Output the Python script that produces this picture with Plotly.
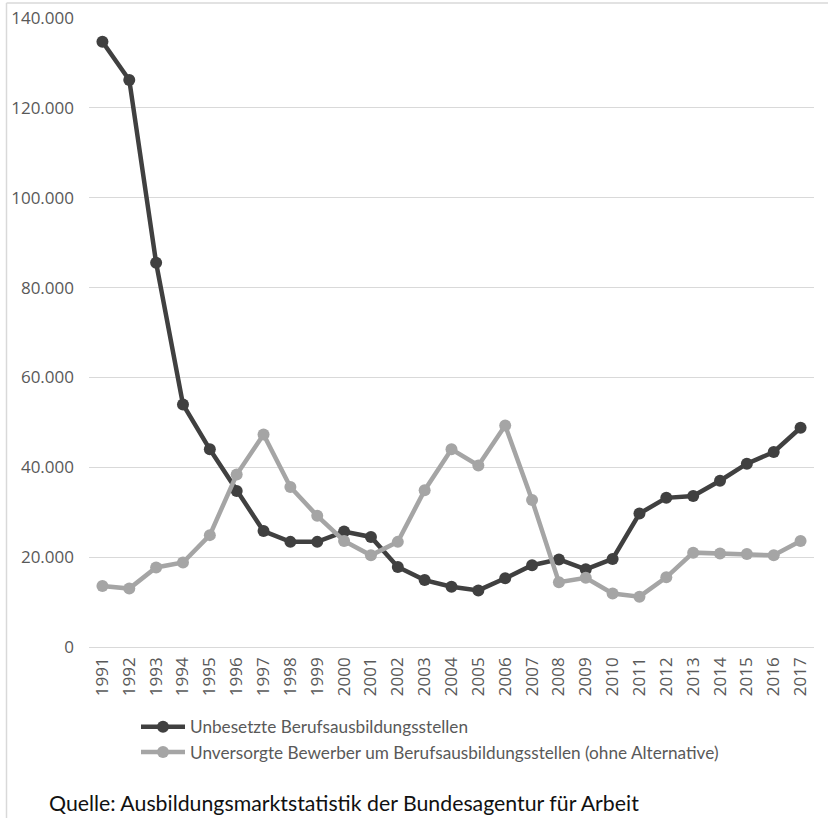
import plotly.graph_objects as go

# Ausbildungsmarkt 1991-2017
years = ["1991", "1992", "1993", "1994", "1995", "1996", "1997", "1998", "1999",
         "2000", "2001", "2002", "2003", "2004", "2005", "2006", "2007", "2008",
         "2009", "2010", "2011", "2012", "2013", "2014", "2015", "2016", "2017"]

unbesetzte = [134700, 126200, 85500, 54000, 44000, 34700, 25800, 23400, 23400,
              25700, 24500, 17800, 14900, 13400, 12600, 15300, 18200, 19500,
              17300, 19600, 29700, 33200, 33600, 37000, 40800, 43400, 48800]

unversorgte = [13600, 13000, 17700, 18800, 24900, 38400, 47300, 35600, 29200,
               23600, 20400, 23400, 34900, 44000, 40400, 49300, 32700, 14400,
               15400, 11900, 11200, 15500, 21000, 20800, 20700, 20400, 23600]

name_unbesetzte = "Unbesetzte Berufsausbildungsstellen"
name_unversorgte = "Unversorgte Bewerber um Berufsausbildungsstellen (ohne Alternative)"
source_text = "Quelle: Ausbildungsmarktstatistik der Bundesagentur für Arbeit"

y_ticks = [0, 20000, 40000, 60000, 80000, 100000, 120000, 140000]

# page geometry (pixels)
WIDTH, HEIGHT = 828, 818
PLOT_L, PLOT_R, PLOT_T, PLOT_B = 89, 814, 18, 647

DARK = "#404040"
LIGHT = "#a5a5a5"
GRID = "#d9d9d9"
TICK_GREY = "#595959"
TICK_FONT = "Open Sans"
TEXT_FONT = "Lato"


def px(x):
    return (x - PLOT_L) / (PLOT_R - PLOT_L)


def py(y):
    return (PLOT_B - y) / (PLOT_B - PLOT_T)


fig = go.Figure()
fig.add_trace(go.Scatter(
    x=years, y=unbesetzte, name=name_unbesetzte, mode="lines+markers",
    line=dict(color=DARK, width=4.5), marker=dict(color=DARK, size=12),
))
fig.add_trace(go.Scatter(
    x=years, y=unversorgte, name=name_unversorgte, mode="lines+markers",
    line=dict(color=LIGHT, width=4.5), marker=dict(color=LIGHT, size=12),
))

# outer frame (left and top edges)
frame_x = px(6.5)
frame_top = py(3)
fig.add_shape(type="line", xref="paper", yref="paper",
              x0=frame_x, x1=frame_x, y0=py(HEIGHT + 5), y1=frame_top,
              line=dict(color=GRID, width=1.5))
fig.add_shape(type="line", xref="paper", yref="paper",
              x0=frame_x, x1=px(WIDTH + 5), y0=frame_top, y1=frame_top,
              line=dict(color=GRID, width=1.5))

fig.add_annotation(
    text=source_text, xref="paper", yref="paper",
    x=px(47), y=py(803), xanchor="left", yanchor="middle", showarrow=False,
    font=dict(family=TEXT_FONT, size=21.3, color="#111111"),
)

fig.update_layout(
    width=WIDTH, height=HEIGHT,
    margin=dict(l=PLOT_L, r=WIDTH - PLOT_R, t=PLOT_T, b=HEIGHT - PLOT_B),
    paper_bgcolor="white", plot_bgcolor="white",
    separators=",.",
    font=dict(family=TICK_FONT, color=TICK_GREY),
    showlegend=True,
    legend=dict(
        x=px(136), y=py(709), xanchor="left", yanchor="top",
        orientation="v", itemwidth=44, tracegroupgap=0,
        font=dict(family=TEXT_FONT, size=17.2, color=TICK_GREY),
        bgcolor="rgba(0,0,0,0)",
    ),
)

fig.update_xaxes(
    type="category", range=[-0.5, len(years) - 0.5], automargin=False,
    tickangle=-90, ticks="", showgrid=False, showline=False,
    tickfont=dict(family=TICK_FONT, size=17, color=TICK_GREY),
    ticklabelstandoff=6,
)
fig.update_yaxes(
    range=[0, 140000], tickvals=y_ticks, tickformat=",d", automargin=False,
    showgrid=True, gridcolor=GRID, gridwidth=1.3,
    zeroline=True, zerolinecolor=GRID, zerolinewidth=1.3,
    ticks="", showline=False,
    tickfont=dict(family=TICK_FONT, size=17, color=TICK_GREY),
    ticklabelstandoff=14,
)

fig.write_html("out.html")
